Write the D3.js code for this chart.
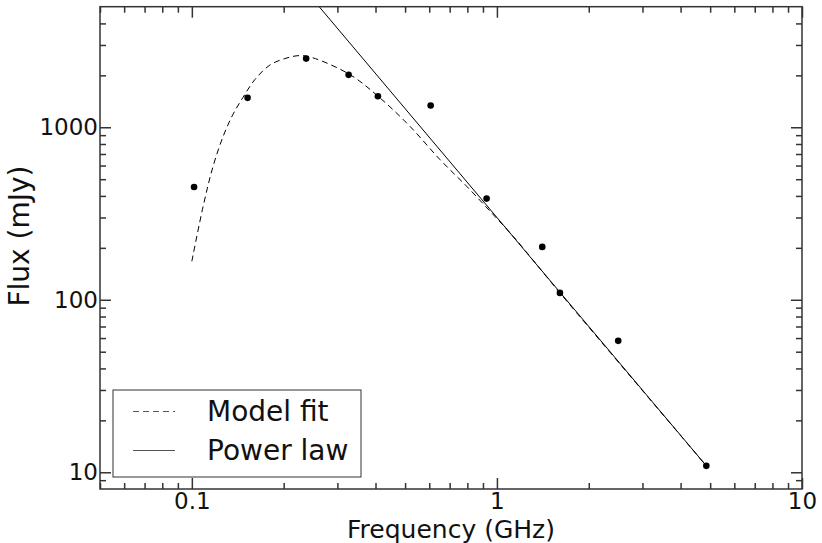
<!DOCTYPE html>
<html>
<head>
<meta charset="utf-8">
<script src="https://cdn.jsdelivr.net/npm/d3@7"></script>
<style>
  html, body { margin: 0; padding: 0; background: #fff; }
  svg { display: block; }
  text { font-family: "DejaVu Sans", sans-serif; fill: #111; }
</style>
</head>
<body>
<svg id="chart" width="822" height="543"></svg>
<script>
// Measured flux densities
const obsFreq = [0.1017, 0.1523, 0.237, 0.3265, 0.4073, 0.6064, 0.925, 1.408, 1.609, 2.498, 4.857];
const obsFlux = [451, 1481, 2501, 2013, 1512, 1336, 386, 202.6, 109.6, 57.8, 10.9];

// Fitted spectral model (sampled)
const fitFreq = [0.1, 0.1089, 0.1174, 0.1267, 0.1363, 0.147, 0.1609, 0.1802, 0.2018, 0.2259, 0.2498,
                 0.3296, 0.408, 0.5186, 0.6504, 0.7957, 0.9607, 1.131, 1.609, 4.857];
const fitFlux = [167, 348, 594, 887, 1185, 1486, 1890, 2294, 2502, 2604, 2525,
                 2021, 1512, 1013, 650, 455, 319, 233, 109.6, 10.9];

// Power-law segment end points
const powFreq = [0.2, 4.857];
const powFlux = [8770, 10.9];

// Axis ticks
const xMajor = [0.1, 1, 10];
const xMajorLabels = ["0.1", "1", "10"];
const xMinor = [0.05, 0.06, 0.07, 0.08, 0.09, 0.2, 0.3, 0.4, 0.5, 0.6, 0.7, 0.8, 0.9,
                2, 3, 4, 5, 6, 7, 8, 9];
const yMajor = [10, 100, 1000];
const yMajorLabels = ["10", "100", "1000"];
const yMinor = [9, 20, 30, 40, 50, 60, 70, 80, 90, 200, 300, 400, 500, 600, 700, 800, 900,
                2000, 3000, 4000];

const legendLabels = ["Model fit", "Power law"];

const svg = d3.select("#chart");
const L = 100, R = 802, T = 6.7, B = 489;

const x = d3.scaleLog().domain([0.05, 10]).range([L, R]);
const y = d3.scaleLog().domain([8, 5000]).range([B, T]);

const frameColor = "#333";

// clip region for the curves
svg.append("defs").append("clipPath").attr("id", "plotclip")
  .append("rect").attr("x", L).attr("y", T).attr("width", R - L).attr("height", B - T);

const plot = svg.append("g").attr("clip-path", "url(#plotclip)");

// power law
plot.append("path")
  .datum(powFreq.map((f, i) => [f, powFlux[i]]))
  .attr("d", d3.line().x(d => x(d[0])).y(d => y(d[1])))
  .attr("fill", "none").attr("stroke", "#000").attr("stroke-width", 1);

// model fit
plot.append("path")
  .datum(fitFreq.map((f, i) => [f, fitFlux[i]]))
  .attr("d", d3.line().x(d => x(d[0])).y(d => y(d[1])).curve(d3.curveCatmullRom.alpha(0.5)))
  .attr("fill", "none").attr("stroke", "#000").attr("stroke-width", 1)
  .attr("stroke-dasharray", "6,4");

// data points
svg.append("g").selectAll("circle")
  .data(obsFreq.map((f, i) => [f, obsFlux[i]]))
  .join("circle")
  .attr("cx", d => x(d[0])).attr("cy", d => y(d[1]))
  .attr("r", 3.3).attr("fill", "#000");

// axes: ticks drawn inward on all four sides
function styleAxis(g) {
  g.select(".domain").remove();
  g.selectAll(".tick line").attr("stroke", frameColor).attr("stroke-width", 1.5);
  g.selectAll(".tick text").style("font-family", "DejaVu Sans").style("font-size", "23px").attr("fill", "#111");
}

const fmtX = d => xMajorLabels[xMajor.indexOf(d)];
const fmtY = d => yMajorLabels[yMajor.indexOf(d)];

svg.append("g").attr("transform", `translate(0,${B})`)
  .call(d3.axisBottom(x).tickValues(xMajor).tickSize(-11).tickPadding(4).tickFormat(fmtX))
  .call(styleAxis);
svg.append("g").attr("transform", `translate(0,${B})`)
  .call(d3.axisBottom(x).tickValues(xMinor).tickSize(-6).tickFormat(""))
  .call(styleAxis);
svg.append("g").attr("transform", `translate(0,${T})`)
  .call(d3.axisTop(x).tickValues(xMajor).tickSize(-11).tickFormat(""))
  .call(styleAxis);
svg.append("g").attr("transform", `translate(0,${T})`)
  .call(d3.axisTop(x).tickValues(xMinor).tickSize(-6).tickFormat(""))
  .call(styleAxis);

svg.append("g").attr("transform", `translate(${L},0)`)
  .call(d3.axisLeft(y).tickValues(yMajor).tickSize(-11).tickPadding(2).tickFormat(fmtY))
  .call(styleAxis);
svg.append("g").attr("transform", `translate(${L},0)`)
  .call(d3.axisLeft(y).tickValues(yMinor).tickSize(-6).tickFormat(""))
  .call(styleAxis);
svg.append("g").attr("transform", `translate(${R},0)`)
  .call(d3.axisRight(y).tickValues(yMajor).tickSize(-11).tickFormat(""))
  .call(styleAxis);
svg.append("g").attr("transform", `translate(${R},0)`)
  .call(d3.axisRight(y).tickValues(yMinor).tickSize(-6).tickFormat(""))
  .call(styleAxis);

// frame
svg.append("rect").attr("x", L).attr("y", T).attr("width", R - L).attr("height", B - T)
  .attr("fill", "none").attr("stroke", frameColor).attr("stroke-width", 1.5);

// axis titles
svg.append("text").attr("x", (L + R) / 2).attr("y", 538).attr("text-anchor", "middle")
  .style("font-size", "25px").text("Frequency (GHz)");
svg.append("text").attr("transform", `translate(29,236) rotate(-90)`)
  .attr("text-anchor", "middle").style("font-size", "28px").text("Flux (mJy)");

// legend
const lg = svg.append("g");
lg.append("rect").attr("x", 113).attr("y", 390).attr("width", 248).attr("height", 87)
  .attr("fill", "#fff").attr("stroke", frameColor).attr("stroke-width", 1);
const rows = [{ y: 411.5, dash: "6,4" }, { y: 450.5, dash: null }];
rows.forEach((r, i) => {
  lg.append("line").attr("x1", 133).attr("x2", 175).attr("y1", r.y).attr("y2", r.y)
    .attr("stroke", "#555").attr("stroke-width", 1)
    .attr("stroke-dasharray", r.dash);
  lg.append("text").attr("x", 207).attr("y", r.y + 9.5)
    .style("font-size", "28px").text(legendLabels[i]);
});
</script>
</body>
</html>
